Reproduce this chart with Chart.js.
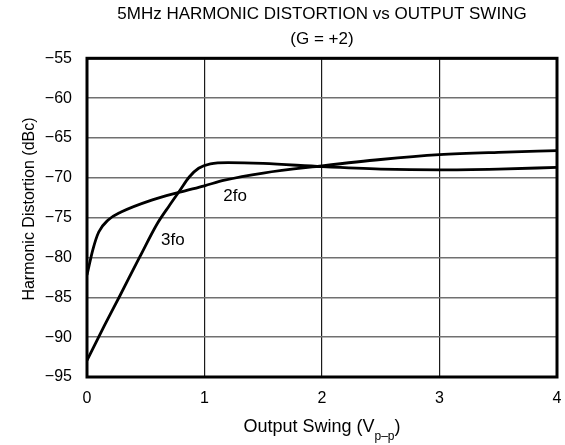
<!DOCTYPE html>
<html>
<head>
<meta charset="utf-8">
<title>5MHz Harmonic Distortion vs Output Swing</title>
<script src="https://cdn.jsdelivr.net/npm/chart.js@4.4.0/dist/chart.umd.min.js"></script>
<style>
  html, body { margin: 0; padding: 0; background: #fff; }
  #chart { display: block; }
</style>
</head>
<body>
<canvas id="chart" width="565" height="445"></canvas>
<script>
const FONT = '"Liberation Sans", Arial, Helvetica, sans-serif';

// Chart text
const titleLines = ['5MHz HARMONIC DISTORTION vs OUTPUT SWING', '(G = +2)'];
const yTitle = 'Harmonic Distortion (dBc)';

// Axis ticks
const xTicks = [0, 1, 2, 3, 4];
const yTicks = [-95, -90, -85, -80, -75, -70, -65, -60, -55];

// 2nd harmonic
const swing2fo = [0, 0.05, 0.1, 0.18, 0.29, 0.55, 0.79, 1.0, 1.17, 1.5, 2.0, 2.5, 3.0, 3.5, 4.0];
const dist2fo = [-82.2, -79.0, -76.8, -75.3, -74.3, -72.8, -71.8, -71.0, -70.3, -69.4, -68.5, -67.7, -67.1, -66.8, -66.6];

// 3rd harmonic
const swing3fo = [0, 0.15, 0.28, 0.45, 0.6, 0.7, 0.79, 0.87, 0.95, 1.05, 1.2, 1.5, 2.0, 2.5, 3.0, 3.5, 4.0];
const dist3fo = [-92.9, -88.5, -84.8, -79.9, -75.7, -73.5, -71.6, -69.9, -68.8, -68.25, -68.1, -68.2, -68.6, -68.9, -69.0, -68.9, -68.7];

// In-plot curve labels, anchored in data units
const curveLabels = ['2fo', '3fo'];
const curveLabelX = [1.26, 0.73];
const curveLabelY = [-72.3, -77.8];

const toPoints = (xs, ys) => xs.map((x, i) => ({ x: x, y: ys[i] }));

// Frame, curve labels and axis titles (x title needs a subscript)
const decorations = {
    id: 'decorations',
    beforeDatasetsDraw(chart) {
        const { ctx, chartArea: a } = chart;
        ctx.save();
        ctx.strokeStyle = '#000';
        ctx.lineWidth = 3;
        ctx.strokeRect(a.left, a.top, a.right - a.left, a.bottom - a.top);
        ctx.restore();
    },
    afterDraw(chart) {
        const { ctx, chartArea: a, scales } = chart;
        ctx.save();
        ctx.fillStyle = '#000';

        ctx.font = `17px ${FONT}`;
        ctx.textAlign = 'center';
        ctx.textBaseline = 'middle';
        curveLabels.forEach((t, i) => {
            ctx.fillText(t, scales.x.getPixelForValue(curveLabelX[i]), scales.y.getPixelForValue(curveLabelY[i]));
        });

        // y axis title
        ctx.save();
        ctx.translate(29.5, 209);
        ctx.rotate(-Math.PI / 2);
        ctx.font = `16px ${FONT}`;
        ctx.fillText(yTitle, 0, 0);
        ctx.restore();

        // x axis title: Output Swing (V p-p)
        const main = 'Output Swing (V', sub = 'p\u2013p', tail = ')';
        ctx.textAlign = 'left';
        ctx.textBaseline = 'alphabetic';
        ctx.font = `18px ${FONT}`;
        const wMain = ctx.measureText(main).width;
        const wTail = ctx.measureText(tail).width;
        ctx.font = `12px ${FONT}`;
        const wSub = ctx.measureText(sub).width;
        let x0 = (a.left + a.right) / 2 - (wMain + wSub + wTail) / 2;
        ctx.font = `18px ${FONT}`;
        ctx.fillText(main, x0, 432);
        ctx.font = `12px ${FONT}`;
        ctx.fillText(sub, x0 + wMain, 440);
        ctx.font = `18px ${FONT}`;
        ctx.fillText(tail, x0 + wMain + wSub, 432);
        ctx.restore();
    }
};

const ctx = document.getElementById('chart').getContext('2d');
new Chart(ctx, {
    type: 'line',
    data: {
        datasets: [
            { label: '2fo', data: toPoints(swing2fo, dist2fo) },
            { label: '3fo', data: toPoints(swing3fo, dist3fo) }
        ]
    },
    options: {
        responsive: false,
        devicePixelRatio: 1,
        animation: false,
        layout: { padding: { left: 0, right: 8, top: 0, bottom: 0 } },
        elements: {
            line: { borderColor: '#000', borderWidth: 2.8, cubicInterpolationMode: 'monotone', fill: false },
            point: { radius: 0 }
        },
        plugins: {
            legend: { display: false },
            tooltip: { enabled: false },
            title: {
                display: true,
                fullSize: false,
                text: titleLines,
                color: '#000',
                font: { family: FONT, size: 17, weight: 'normal', lineHeight: 1.45 },
                padding: { top: 2, bottom: 7 }
            }
        },
        scales: {
            x: {
                type: 'linear',
                min: 0,
                max: 4,
                afterBuildTicks: s => { s.ticks = xTicks.map(v => ({ value: v })); },
                afterFit: s => { s.height = 68; s.paddingLeft = 0; s.paddingRight = 0; },
                grid: { color: '#1a1a1a', lineWidth: 1.2, drawTicks: false },
                border: { display: false },
                ticks: { color: '#000', font: { family: FONT, size: 16 }, padding: 12 }
            },
            y: {
                type: 'linear',
                min: -95,
                max: -55,
                afterBuildTicks: s => { s.ticks = yTicks.map(v => ({ value: v })); },
                afterFit: s => { s.width = 87; },
                grid: { color: '#707070', lineWidth: 1.4, drawTicks: false },
                border: { display: false },
                ticks: {
                    color: '#000',
                    font: { family: FONT, size: 16 },
                    padding: 15,
                    callback: v => '\u2212' + Math.abs(v)
                }
            }
        }
    },
    plugins: [decorations]
});
</script>
</body>
</html>
